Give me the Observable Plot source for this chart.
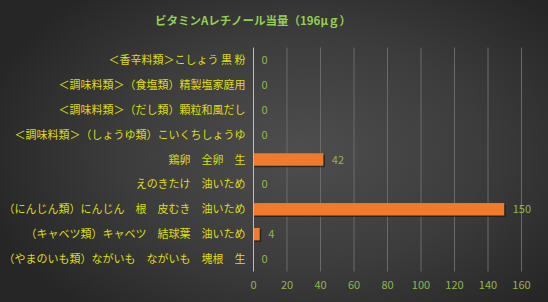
<!DOCTYPE html>
<html><head><meta charset="utf-8">
<script src="https://cdn.jsdelivr.net/npm/d3@7"></script>
<script src="https://cdn.jsdelivr.net/npm/@observablehq/plot@0.6"></script>
<style>
html,body{margin:0;padding:0;}
body{width:548px;height:302px;overflow:hidden;background:radial-gradient(ellipse 60% 70% at 55% 50%, #4e4e4e 0%, #3c3c3c 55%, #262626 100%);font-family:"Noto Sans CJK JP",sans-serif;}
#title{height:40px;line-height:40px;text-align:left;padding-left:155px;color:#92D050;font-size:11.5px;font-weight:bold;}
svg{display:block;}
</style></head><body>
<div id="title">ビタミンAレチノール当量（196μｇ）</div>
<div id="chart"></div>
<script>
const categories = ["＜香辛料類＞こしょう 黒 粉","＜調味料類＞（食塩類）精製塩家庭用","＜調味料類＞（だし類）顆粒和風だし","＜調味料類＞（しょうゆ類）こいくちしょうゆ","鶏卵　全卵　生","えのきたけ　油いため","（にんじん類）にんじん　根　皮むき　油いため","（キャベツ類）キャベツ　結球葉　油いため","（やまのいも類）ながいも　ながいも　塊根　生"];
const values = [0,0,0,0,42,0,150,4,0];
const xTicks = [0,20,40,60,80,100,120,140,160];
const data = categories.map((c,i)=>({name:c, value:values[i]}));

const chart = Plot.plot({
  width:548, height:262,
  marginTop:7.5, marginBottom:30.5, marginLeft:253, marginRight:27,
  style:{background:"transparent", fontFamily:"'Noto Sans CJK JP', sans-serif", fontSize:"11px", overflow:"visible"},
  x:{domain:[0,160], ticks:xTicks, label:null},
  y:{domain:categories, paddingInner:0.5, paddingOuter:0.25, round:false, label:null},
  marks:[
    Plot.gridX(xTicks.slice(1), {stroke:"#6a6a6a", strokeOpacity:1, strokeWidth:1}),
    Plot.barX(data, {x:"value", y:"name", fill:"#1a1a1a", fillOpacity:0.7, dx:1.5, dy:1.5}),
    Plot.barX(data, {x:"value", y:"name", fill:"#F07B2C"}),
    Plot.ruleX([0], {stroke:"#bdbdbd", strokeWidth:1}),
    Plot.text(data, {x:"value", y:"name", text:d=>String(d.value), dx:8, textAnchor:"start", fill:"#8fb84a", fontSize:11}),
    Plot.axisY({tickSize:0, tickPadding:8, fill:"#dede10", fontSize:11, label:null}),
    Plot.axisX({tickSize:0, tickPadding:9, fill:"#8fb84a", fontSize:11, label:null, ticks:xTicks})
  ]
});
document.getElementById("chart").appendChild(chart);
</script>
</body></html>
